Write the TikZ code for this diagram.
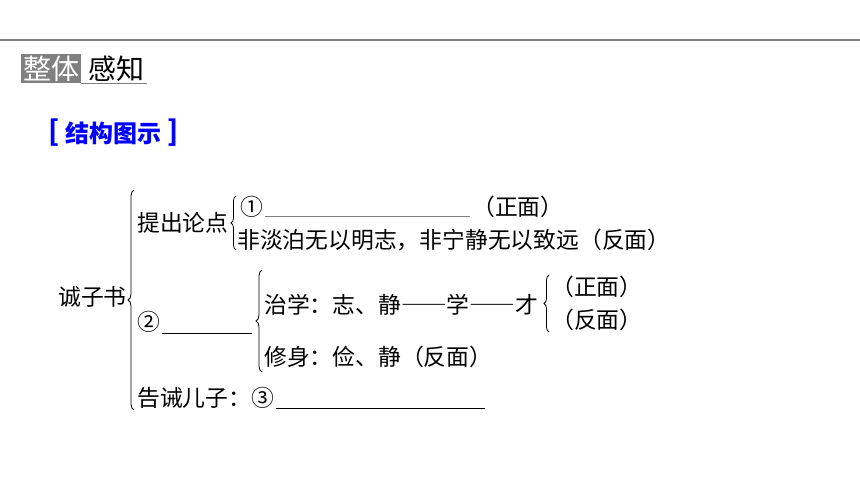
\documentclass[tikz,border=0pt]{standalone}
\usepackage{fontspec}
\setmainfont{Noto Sans CJK SC}
\usetikzlibrary{decorations.pathreplacing,calc}
\definecolor{tgray}{RGB}{128,128,128}
\definecolor{tblue}{RGB}{0,0,255}
\newcommand{\fwdash}{{\addfontfeature{CharacterWidth=Full}——}}
\begin{document}
\begin{tikzpicture}[x=1pt,y=-1pt,
  txt/.style={font=\fontsize{22.8}{24}\selectfont, inner sep=0pt, anchor=west},
  hd/.style={text=tblue, inner sep=0pt, font=\fontsize{24}{26}\selectfont\bfseries},
  brc/.style={decorate, decoration={brace, amplitude=#1}, line width=0.8pt},
  blank/.style={line width=0.8pt}]
\useasboundingbox (0,0) rectangle (860,484);
\fill[white] (0,0) rectangle (860,484);
\draw[tgray, line width=1.6pt] (0,40) -- (860,40);
% title
\node[anchor=west, fill=tgray, text=white, inner xsep=2pt, inner ysep=0pt, minimum height=29pt,
  font=\fontsize{28}{30}\selectfont] (t1) at (21,69) {整体};
\node[anchor=west, inner sep=0pt, font=\fontsize{28}{30}\selectfont] (t2) at ($(t1.east)+(7,0)$) {感知};
\draw[tgray, line width=1.2pt] (t1.south east) -- ($(t2.east |- t1.south)+(2,0)$);
% heading
\node[hd, anchor=west] (st) at (65,133) {结构图示};
\node[hd, font=\fontsize{28}{30}\selectfont\bfseries] (lb) at (54,133) {[};
\node[hd, font=\fontsize{28}{30}\selectfont\bfseries] (rb) at (173,133) {]};
% tree
\node[txt] (root) at (58,297) {诚子书};
\draw[brc=6pt] (134,410) -- (134,190);
\node[txt] (a0) at (137,223) {提出论点};
\draw[brc=5pt] (236,250) -- (236,196);
\node[txt] (a1) at (240,207) {①};
\node[txt] (a1z) at (472,207) {（正面）};
\draw[blank, tgray] ($(a1.east)+(2,9)$) -- ($(a1z.west)+(-2,9)$);
\node[txt] (a2) at (237,240) {非淡泊无以明志，非宁静无以致远（反面）};
\node[txt] (b0) at (137,322) {②};
\coordinate (b0e) at (252,333);
\draw[blank] ($(b0.east)+(2,11)$) -- (b0e);
\draw[brc=6pt] (262,372) -- (262,270);
\node[txt] (b1) at (264,305) {治学：志、静\fwdash 学\fwdash 才};
\draw[brc=5pt] (549,332) -- (549,275);
\node[txt] (b2) at (551,287) {（正面）};
\node[txt] (b3) at (551,320) {（反面）};
\node[txt] (b4) at (264,357) {修身：俭、静（反面）};
\node[txt] (c0) at (137,398) {告诫儿子：③};
\coordinate (c0e) at (485,408);
\draw[blank] ($(c0.east)+(2,10)$) -- (c0e);
\end{tikzpicture}
\end{document}
